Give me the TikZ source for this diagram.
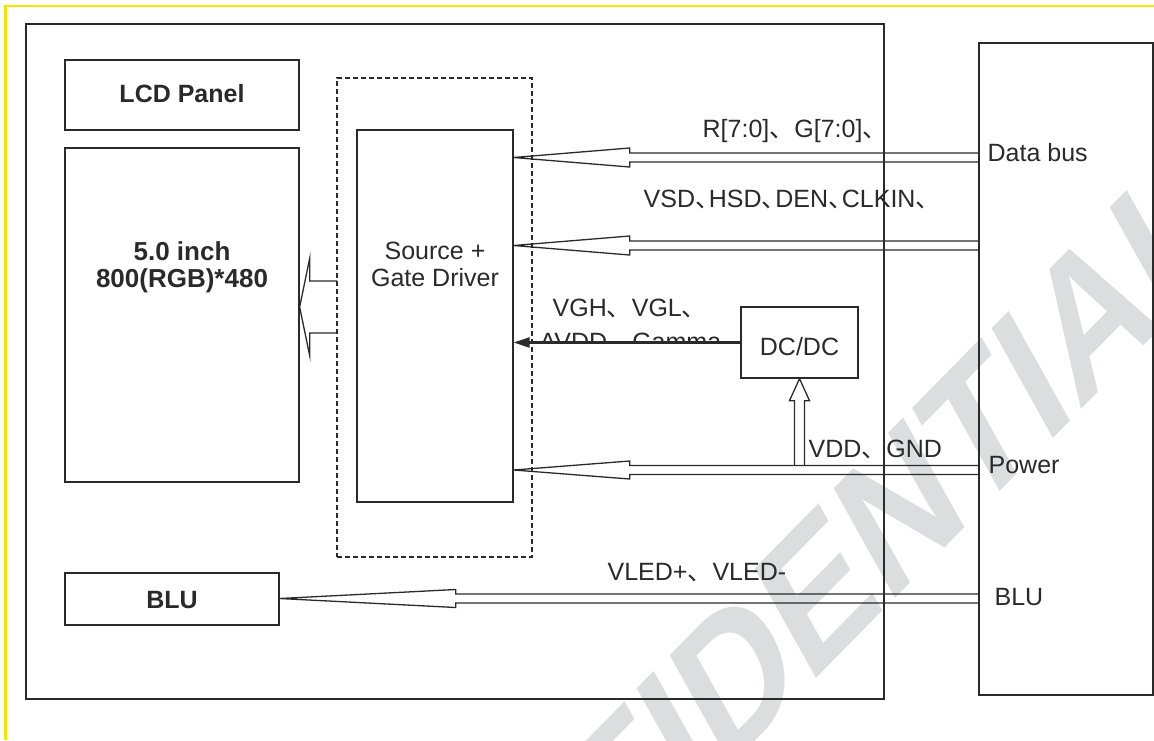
\documentclass[tikz,border=0pt]{standalone}
\usepackage{fontspec}
\setmainfont{Liberation Sans}
\newfontfamily\cjk{Noto Sans CJK SC}
\usetikzlibrary{arrows.meta,calc,fit}

\definecolor{ink}{HTML}{2A2A2A}
\definecolor{wmark}{HTML}{DCDDDE}
\definecolor{pageframe}{HTML}{F2E600}

% ideographic comma, optional advance width
\newcommand{\dun}[1][1em]{\makebox[#1][l]{\cjk 、}}
% hollow bus arrow: tail, tip, head length, head half width, shaft half width
\newcommand{\hollowarrow}[5]{%
  \draw[bus] ($(#1)+(0,-#5)$) -- ($(#2)+(#3,-#5)$) -- ($(#2)+(#3,-#4)$) -- (#2)
    -- ($(#2)+(#3,#4)$) -- ($(#2)+(#3,#5)$) -- ($(#1)+(0,#5)$);}

\begin{document}
\begin{tikzpicture}[x=0.5pt, y=-0.5pt, color=ink, line width=0.65pt,
  font=\fontsize{12.5pt}{13.25pt}\selectfont,
  box/.style={draw, inner sep=0pt},
  bus/.style={line join=miter},
  lbl/.style={anchor=base west, inner sep=0pt},
  bold/.style={font=\fontsize{12.5pt}{13.25pt}\selectfont\bfseries, align=center}]
  \useasboundingbox (0,0) rectangle (1154,740);

  % watermark
  \begin{scope}
    \clip (0,0) rectangle (1154,740);
    \node[text=wmark, yscale=1.35, rotate=37, font=\fontsize{74pt}{74pt}\selectfont\bfseries]
      (stamp) at (765,645) {CONFIDENTIAL};
  \end{scope}

  % page frame
  \draw[pageframe, line width=1.4pt] (5.5,740) -- (5.5,6) -- (1154,6);

  % module and host
  \node[box, fit={(26,24) (884,699)}] (module) {};
  \node[box, fit={(979,43) (1153,695)}] (host) {};

  % LCD blocks
  \node[box, fit={(65,60) (299,130)}] (lcd) {};
  \node[bold, anchor=base] (lcdtxt) at (182,102) {LCD Panel};
  \node[box, fit={(65,148) (299,482)}] (panel) {};
  \node[bold, font=\fontsize{13pt}{13.25pt}\selectfont\bfseries] (paneltxt) at (182,267.5) {5.0 inch\\800(RGB)*480};
  \node[box, dashed, dash pattern=on 2.5pt off 1.5pt, fit={(337,78) (532,557)}] (drvzone) {};
  \node[box, fit={(357,130) (513,502)}] (src) {};
  \node[align=center] (srctxt) at (435,264.5) {Source +\\Gate Driver};
  \node[box, fit={(741,307) (858,378)}] (dcdc) {};
  \node[anchor=base, inner sep=0pt] (dcdctxt) at (799.5,355) {DC/DC};
  \node[box, fit={(65,573) (279,625)}] (blu) {};
  \node[bold, anchor=base] (blutxt) at (172,608) {BLU};

  % host labels
  \node[lbl] (busl) at (987,161) {Data bus};
  \node[lbl] (pwrl) at (988,473) {Power};
  \node[lbl] (blul) at (994,605) {BLU};

  % bus ends
  \coordinate (rgbin) at (979,157.5);
  \coordinate (syncin) at (979,245.5);
  \coordinate (pwrin) at (979,470);
  \coordinate (ledin) at (979,598.5);
  \coordinate (pnlout) at (337,307);
  \coordinate (rgbtip) at (src.east |- rgbin);
  \coordinate (synctip) at (src.east |- syncin);
  \coordinate (pwrtip) at (src.east |- pwrin);
  \coordinate (ledtip) at (blu.east |- ledin);
  \coordinate (pnltip) at (panel.east |- pnlout);
  \coordinate (pwrtap) at (799.5,465.5);

  % wide arrows
  \hollowarrow{rgbin}{rgbtip}{116}{9.5}{4.5}
  \hollowarrow{syncin}{synctip}{116}{9.5}{4.5}
  \hollowarrow{pwrin}{pwrtip}{116}{9}{4.5}
  \hollowarrow{ledin}{ledtip}{176}{9}{4.5}
  \hollowarrow{pnlout}{pnltip}{10}{48.5}{26}

  % supply into DC/DC
  \draw[bus] ($(pwrtap)+(-5,0)$) -- ($(dcdc.south)+(-5,22)$) -- ($(dcdc.south)+(-10,22)$)
    -- (dcdc.south) -- ($(dcdc.south)+(10,22)$) -- ($(dcdc.south)+(5,22)$) -- ($(pwrtap)+(5,0)$);

  % DC/DC output
  \draw[line width=1.1pt, -{Triangle[length=8pt, width=5pt]}] (dcdc.west) -- (src.east |- dcdc.west);

  % signal labels
  \node[lbl] (rgbl) at (702,137) {R[7:0]\dun G[7:0]\dun};
  \node[lbl] (syncl) at (643,207) {VSD\dun[0.55em]HSD\dun[0.55em]DEN\dun[0.55em]CLKIN\dun[0.55em]};
  \node[lbl] (vghl) at (552,316) {VGH\dun VGL\dun};
  \begin{scope}
    \clip (530,300) rectangle (740,342.5);
    \node[lbl] (avddl) at (539,350) {AVDD\dun Gamma};
  \end{scope}
  \node[lbl] (vddl) at (808,457) {VDD\dun GND};
  \node[lbl] (ledl) at (607,580) {VLED+\dun VLED-};
\end{tikzpicture}
\end{document}
